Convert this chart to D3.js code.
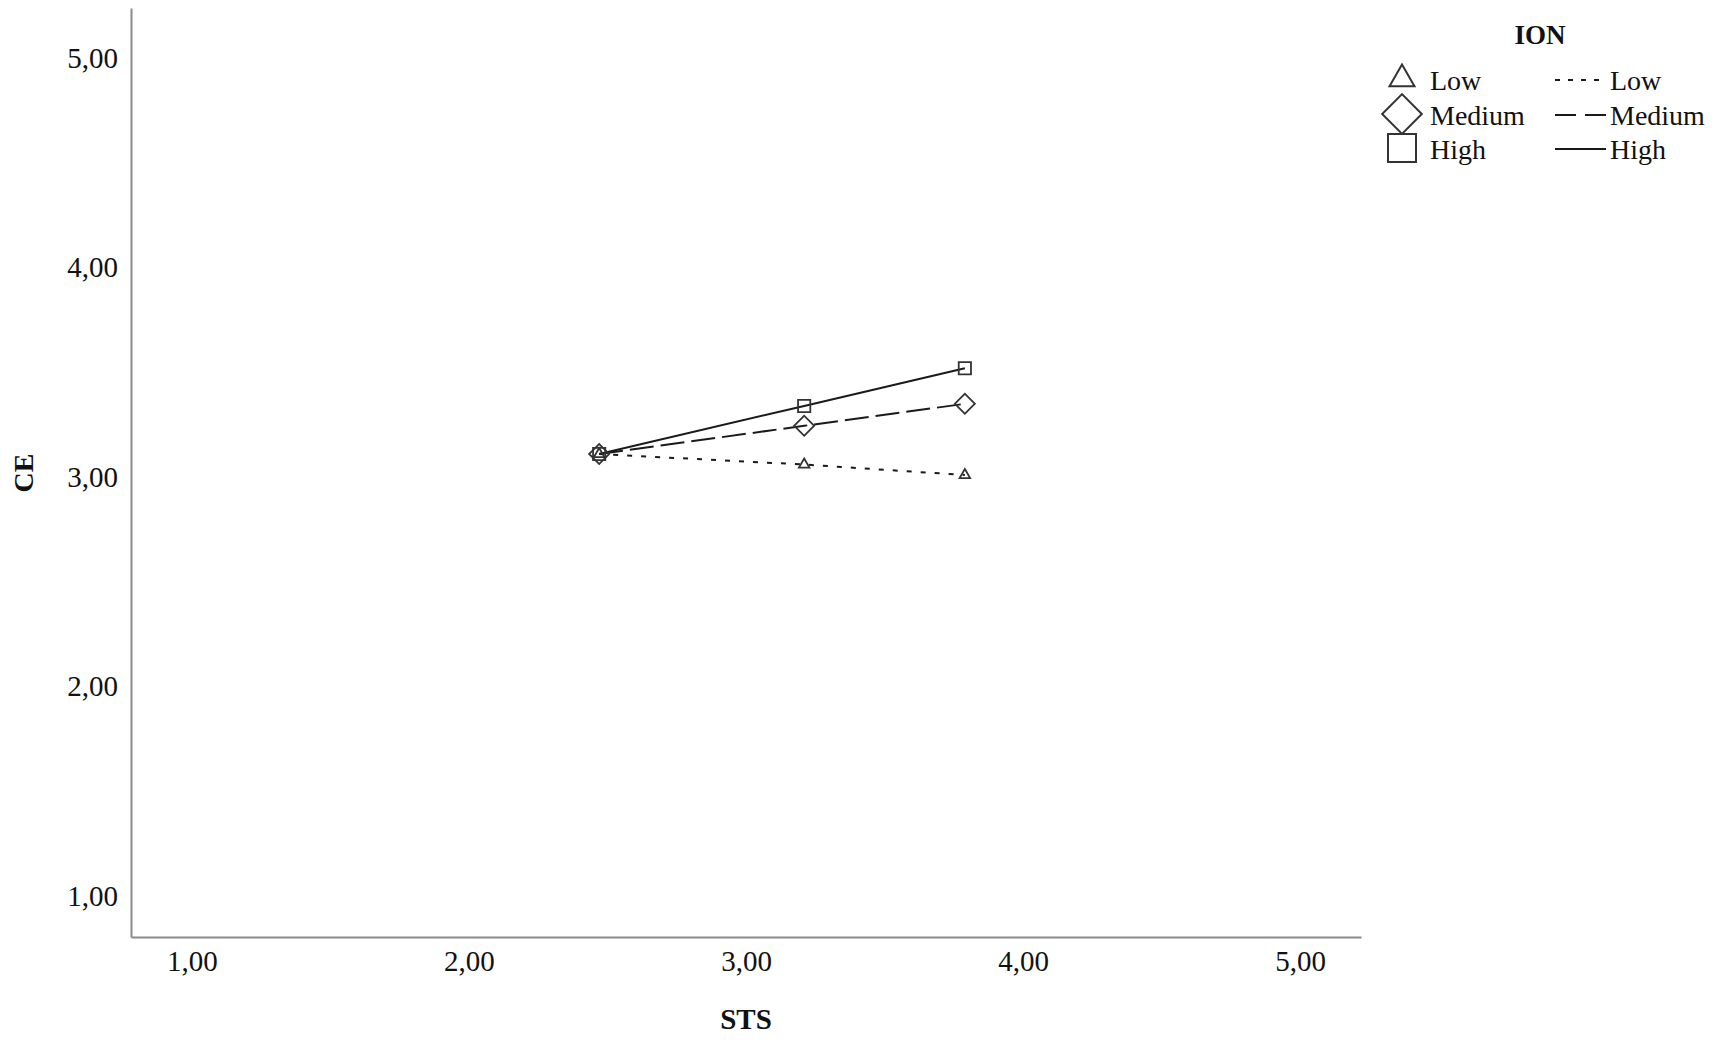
<!DOCTYPE html>
<html>
<head>
<meta charset="utf-8">
<script src="https://cdn.jsdelivr.net/npm/d3@7"></script>
<style>
  html, body { margin: 0; padding: 0; background: #fff; }
  svg { display: block; }
  text { font-family: "Liberation Serif", "Times New Roman", serif; fill: #111; }
</style>
</head>
<body>
<svg id="chart" width="1713" height="1041"></svg>
<script>
// ---- data ----
const stsValues = [2.47, 3.21, 3.79];
const seriesNames = ["Low", "Medium", "High"];
const ceLow = [3.11, 3.06, 3.01];
const ceMedium = [3.11, 3.245, 3.35];
const ceHigh = [3.11, 3.34, 3.52];
const xTicks = [1, 2, 3, 4, 5];
const yTicks = [1, 2, 3, 4, 5];
const xTickLabels = ["1,00", "2,00", "3,00", "4,00", "5,00"];
const yTickLabels = ["1,00", "2,00", "3,00", "4,00", "5,00"];
const xTitle = "STS";
const yTitle = "CE";
const legendTitle = "ION";

const seriesValues = [ceLow, ceMedium, ceHigh];

// ---- styles ----
const markerTypes = ["triangle", "diamond", "square"];
const dashes = ["5,9", "24,7", null];

const svg = d3.select("#chart");
const x = d3.scaleLinear().domain([0.78, 5.22]).range([131, 1361]);
const y = d3.scaleLinear().domain([0.804, 5.24]).range([937, 8]);

function symbolPath(type, big) {
  if (type === "triangle") return d3.symbol(d3.symbolTriangle, big ? 270 : 48)();
  if (type === "diamond") return d3.symbol(d3.symbolSquare, big ? 784 : 200)();
  return d3.symbol(d3.symbolSquare, big ? 784 : 150)();
}
function symbolRot(type) { return type === "diamond" ? " rotate(45)" : ""; }

// axes
const xAxis = d3.axisBottom(x).tickValues(xTicks).tickSize(0).tickPadding(13)
  .tickFormat((d, i) => xTickLabels[i]);
const yAxis = d3.axisLeft(y).tickValues(yTicks).tickSize(0).tickPadding(13)
  .tickFormat((d, i) => yTickLabels[i]);

const gx = svg.append("g").attr("transform", "translate(0,937)").call(xAxis);
const gy = svg.append("g").attr("transform", "translate(131,0)").call(yAxis);
[gx, gy].forEach(g => {
  g.select(".domain").attr("stroke", "#8a8a8a").attr("stroke-width", 2);
  g.selectAll("text").style("font-family", '"Liberation Serif", serif')
    .style("font-size", "29px").attr("fill", "#111");
});
gx.selectAll("text").attr("dy", "0.71em");

// axis titles
svg.append("text").attr("x", 746).attr("y", 1029).attr("text-anchor", "middle")
  .style("font-size", "29px").style("font-weight", "bold").text(xTitle);
svg.append("text").attr("transform", "translate(33,473) rotate(-90)")
  .attr("text-anchor", "middle").style("font-size", "28px").style("font-weight", "bold").text(yTitle);

// lines
const line = d3.line().x((d, i) => x(stsValues[i])).y(d => y(d));
seriesValues.forEach((vals, k) => {
  svg.append("path").datum(vals).attr("d", line)
    .attr("fill", "none").attr("stroke", "#1a1a1a").attr("stroke-width", 2)
    .attr("stroke-dasharray", dashes[k]);
});
// markers
seriesValues.forEach((vals, k) => {
  svg.append("g").selectAll("path").data(vals).join("path")
    .attr("d", symbolPath(markerTypes[k], false))
    .attr("transform", (d, i) => `translate(${x(stsValues[i])},${y(d)})` + symbolRot(markerTypes[k]))
    .attr("fill", "none").attr("stroke", "#333").attr("stroke-width", 1.8);
});

// legend
const lg = svg.append("g");
lg.append("text").attr("x", 1540).attr("y", 44).attr("text-anchor", "middle")
  .style("font-size", "27px").style("font-weight", "bold").text(legendTitle);
const rowY = [80, 115, 149];
seriesNames.forEach((name, k) => {
  lg.append("path").attr("d", symbolPath(markerTypes[k], true))
    .attr("transform", `translate(1402,${rowY[k] - 1})` + symbolRot(markerTypes[k]))
    .attr("fill", "none").attr("stroke", "#333").attr("stroke-width", 2);
  lg.append("text").attr("x", 1430).attr("y", rowY[k] + 10).style("font-size", "28px").text(name);
  lg.append("line").attr("x1", 1555).attr("x2", 1606).attr("y1", rowY[k]).attr("y2", rowY[k])
    .attr("stroke", "#1a1a1a").attr("stroke-width", 2).attr("stroke-dasharray", k === 0 ? "5,8" : (k === 1 ? "21,9" : null));
  lg.append("text").attr("x", 1610).attr("y", rowY[k] + 10).style("font-size", "28px").text(name);
});
</script>
</body>
</html>
